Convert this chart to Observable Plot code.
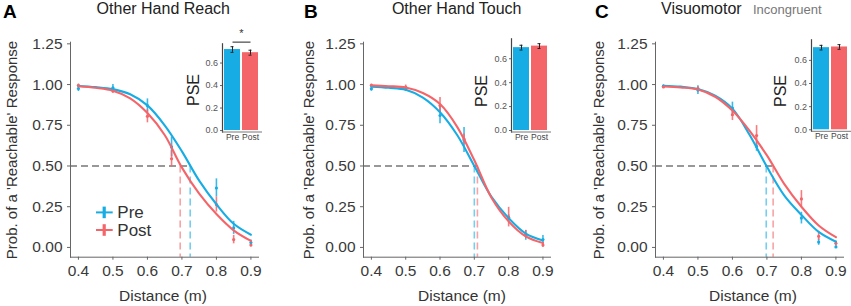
<!DOCTYPE html>
<html><head><meta charset="utf-8">
<script src="https://cdn.jsdelivr.net/npm/d3@7"></script>
<script src="https://cdn.jsdelivr.net/npm/@observablehq/plot@0.6"></script>
<style>
body{margin:0;background:#fff;}
#fig{position:relative;width:851px;height:306px;overflow:hidden;font-family:"Liberation Sans",Arial,sans-serif;background:#fff;}
#fig svg{position:absolute;overflow:visible;}
</style></head><body><div id="fig"></div>
<script>
// ---------- data ----------
const groups = ["Pre", "Post"];
const colors = ["#17ADE4", "#F4656A"];
const xTicks = [0.4, 0.5, 0.6, 0.7, 0.8, 0.9];
const yTicks = [0, 0.25, 0.5, 0.75, 1, 1.25];
const insetTicks = [0, 0.2, 0.4, 0.6];

// fitted curves
const curveX = [0.4, 0.45, 0.5, 0.55, 0.6, 0.65, 0.7, 0.75, 0.8, 0.85, 0.9];
const curveA_pre  = [0.991, 0.984, 0.972, 0.940, 0.872, 0.750, 0.590, 0.410, 0.265, 0.145, 0.078];
const curveA_post = [0.990, 0.980, 0.962, 0.915, 0.825, 0.690, 0.490, 0.330, 0.205, 0.105, 0.040];
const curveB_pre  = [0.987, 0.980, 0.968, 0.920, 0.830, 0.690, 0.500, 0.310, 0.180, 0.085, 0.043];
const curveB_post = [0.995, 0.990, 0.982, 0.948, 0.880, 0.740, 0.535, 0.305, 0.160, 0.068, 0.027];
const curveC_pre  = [0.993, 0.987, 0.973, 0.932, 0.852, 0.690, 0.495, 0.320, 0.200, 0.095, 0.035];
const curveC_post = [0.988, 0.982, 0.969, 0.925, 0.840, 0.715, 0.565, 0.390, 0.250, 0.135, 0.063];

// observed means and error half-widths
const obsX = [0.4, 0.5, 0.6, 0.67, 0.8, 0.85, 0.9];
const obsA_pre  = [0.975, 0.980, 0.871, 0.617, 0.365, 0.120, 0.030];
const errA_pre  = [0.018, 0.020, 0.041, 0.060, 0.056, 0.040, 0.015];
const obsA_post = [0.995, 0.960, 0.805, 0.544, 0.263, 0.048, 0.015];
const errA_post = [0.008, 0.014, 0.040, 0.050, 0.046, 0.026, 0.012];
const obsB_pre  = [0.974, 0.972, 0.810, 0.660, 0.180, 0.074, 0.048];
const errB_pre  = [0.015, 0.015, 0.050, 0.077, 0.020, 0.030, 0.025];
const obsB_post = [0.995, 0.985, 0.871, 0.665, 0.186, 0.080, 0.015];
const errB_post = [0.008, 0.012, 0.050, 0.032, 0.060, 0.025, 0.015];
const obsC_pre  = [0.990, 0.966, 0.856, 0.620, 0.180, 0.033, 0.003];
const errC_pre  = [0.008, 0.027, 0.036, 0.030, 0.036, 0.020, 0.008];
const obsC_post = [0.985, 0.975, 0.815, 0.687, 0.298, 0.068, 0.025];
const errC_post = [0.008, 0.012, 0.036, 0.061, 0.051, 0.026, 0.015];

// PSE (50% points) per condition [Pre, Post]
const pseA = [0.724, 0.695];
const pseB = [0.700, 0.709];
const pseC = [0.698, 0.718];

// inset bars [Pre, Post]
const barA = [0.720, 0.692], barErrA = [0.025, 0.022];
const barB = [0.693, 0.706], barErrB = [0.020, 0.020];
const barC = [0.710, 0.716], barErrC = [0.020, 0.020];

// ---------- helpers ----------
const FONT = "'Liberation Sans', Arial, sans-serif";
const X_DOMAIN = [0.377, 0.922];
const Y_DOMAIN = [-0.06, 1.26];
const fig = document.getElementById("fig");

function place(el, left, top) {
  el.style.position = "absolute";
  el.style.left = left + "px";
  el.style.top = top + "px";
  fig.appendChild(el);
}

function mainPanel(cfg) {
  const curves = [];
  curveX.forEach((x, i) => {
    curves.push({x, y: cfg.curvePre[i], group: "Pre"});
    curves.push({x, y: cfg.curvePost[i], group: "Post"});
  });
  const obs = [];
  obsX.forEach((x, i) => {
    obs.push({x, y: cfg.obsPre[i], lo: cfg.obsPre[i] - cfg.errPre[i], hi: cfg.obsPre[i] + cfg.errPre[i], group: "Pre"});
    obs.push({x, y: cfg.obsPost[i], lo: cfg.obsPost[i] - cfg.errPost[i], hi: cfg.obsPost[i] + cfg.errPost[i], group: "Post"});
  });
  const pse = groups.map((g, i) => ({x: cfg.pse[i], group: g}));
  const pseMax = d3.max(cfg.pse);
  return Plot.plot({
    width: cfg.width, height: 306,
    marginTop: 41.7, marginBottom: 49.3, marginLeft: cfg.marginLeft, marginRight: cfg.marginRight,
    x: {domain: X_DOMAIN},
    y: {domain: Y_DOMAIN},
    color: {domain: groups, range: colors},
    style: {fontFamily: FONT, fontSize: "15.5px", color: "#3a3a3a", background: "transparent", overflow: "visible"},
    marks: [
      Plot.ruleY([0.5], {x1: () => X_DOMAIN[0], x2: () => pseMax, stroke: "#333", strokeWidth: 1.1, strokeDasharray: "7,4"}),
      Plot.ruleX(pse, {x: "x", y1: () => 0.5, y2: () => Y_DOMAIN[0], stroke: "group", strokeOpacity: 0.6, strokeWidth: 1.6, strokeDasharray: "7,4"}),
      Plot.ruleX(obs, {x: "x", y1: "lo", y2: "hi", stroke: "group", strokeWidth: 1.6, strokeOpacity: 0.85}),
      Plot.dot(obs, {x: "x", y: "y", fill: "group", r: 1.6}),
      Plot.line(curves, {x: "x", y: "y", z: "group", stroke: "group", strokeWidth: 2.1, curve: "catmull-rom"}),
      Plot.frame({anchor: "left", stroke: "#666"}),
      Plot.frame({anchor: "bottom", stroke: "#666"}),
      Plot.axisX({ticks: xTicks, tickFormat: d3.format(".1f"), tickSize: 3, tickPadding: 5, stroke: "#666", label: null}),
      Plot.axisY({ticks: yTicks, tickFormat: d3.format(".2f"), tickSize: 3, tickPadding: 5, stroke: "#666", label: null})
    ]
  });
}

function insetPanel(cfg) {
  const rows = groups.map((g, i) => ({group: g, value: cfg.vals[i], lo: cfg.vals[i] - cfg.errs[i], hi: cfg.vals[i] + cfg.errs[i]}));
  const marks = [
    Plot.barY(rows, {x: "group", y: "value", fill: "group"}),
    Plot.ruleX(rows, {x: "group", y1: "lo", y2: "hi", stroke: "#222", strokeWidth: 1}),
    Plot.tickY(rows, {x: "group", y: "lo", stroke: "#222", strokeWidth: 1, insetLeft: 6.5, insetRight: 6.5}),
    Plot.tickY(rows, {x: "group", y: "hi", stroke: "#222", strokeWidth: 1, insetLeft: 6.5, insetRight: 6.5}),
    Plot.frame({anchor: "left", stroke: "#444", strokeWidth: 1.2}),
    Plot.frame({anchor: "bottom", stroke: "#777"}),
    Plot.axisX({tickSize: 0, tickPadding: 2, fontSize: 8.5, label: null, color: "#444"}),
    Plot.axisY({ticks: insetTicks, tickFormat: d3.format(".1f"), tickSize: 2, tickPadding: 2.5, fontSize: 9, stroke: "#666", label: null})
  ];
  if (cfg.sig) {
    marks.push(Plot.link([cfg.sig], {x1: () => "Pre", x2: () => "Post", y1: "y", y2: "y", stroke: "#222", strokeWidth: 1}));
    marks.push(Plot.text([cfg.sig], {x: () => "Pre", text: "label", y: "ty", dx: 9, fontSize: 11, fill: "#333"}));
  }
  return Plot.plot({
    width: cfg.width, height: cfg.height,
    marginTop: cfg.marginTop, marginBottom: cfg.marginBottom, marginLeft: cfg.marginLeft, marginRight: cfg.marginRight,
    x: {domain: groups, paddingInner: 0.1, paddingOuter: 0.1},
    y: {domain: cfg.yDomain},
    color: {domain: groups, range: colors},
    style: {fontFamily: FONT, fontSize: "9px", color: "#555", background: "transparent", overflow: "visible"},
    marks
  });
}

// ---------- main panels ----------
place(mainPanel({width: 290, marginLeft: 70, marginRight: 32,
  curvePre: curveA_pre, curvePost: curveA_post, obsPre: obsA_pre, errPre: errA_pre, obsPost: obsA_post, errPost: errA_post, pse: pseA}), 0, 0);
place(mainPanel({width: 280, marginLeft: 73, marginRight: 20,
  curvePre: curveB_pre, curvePost: curveB_post, obsPre: obsB_pre, errPre: errB_pre, obsPost: obsB_post, errPost: errB_post, pse: pseB}), 290, 0);
place(mainPanel({width: 281, marginLeft: 85, marginRight: 8,
  curvePre: curveC_pre, curvePost: curveC_post, obsPre: obsC_pre, errPre: errC_pre, obsPost: obsC_post, errPost: errC_post, pse: pseC}), 570, 0);

// ---------- insets ----------
place(insetPanel({width: 65, height: 125, marginLeft: 22, marginRight: 4, marginTop: 23.3, marginBottom: 13.5,
  yDomain: [-0.013, 0.771], vals: barA, errs: barErrA, sig: {y: 0.786, ty: 0.86, label: "*"}}), 200, 20);
place(insetPanel({width: 65, height: 125, marginLeft: 21, marginRight: 5, marginTop: 18.3, marginBottom: 13.5,
  yDomain: [-0.0126, 0.767], vals: barB, errs: barErrB}), 490, 20);
place(insetPanel({width: 61, height: 125, marginLeft: 21, marginRight: 1, marginTop: 19.3, marginBottom: 14.2,
  yDomain: [-0.013, 0.778], vals: barC, errs: barErrC}), 790, 20);

// ---------- text overlay ----------
const svg = d3.create("svg").attr("width", 851).attr("height", 306)
  .style("left", "0px").style("top", "0px").style("pointer-events", "none")
  .attr("font-family", FONT);
function txt(x, y, s, o = {}) {
  const t = svg.append("text").attr("x", x).attr("y", y).text(s)
    .attr("font-size", o.size || 15.5).attr("fill", o.fill || "#222")
    .attr("text-anchor", o.anchor || "start");
  if (o.weight) t.attr("font-weight", o.weight);
  if (o.rotate) t.attr("transform", `rotate(-90 ${x} ${y})`).attr("dominant-baseline", "central");
  return t;
}
// panel letters
txt(3, 18.3, "A", {size: 19, weight: "bold", fill: "#000"});
txt(304, 18.3, "B", {size: 19, weight: "bold", fill: "#000"});
txt(595, 18.3, "C", {size: 19, weight: "bold", fill: "#000"});
// titles
txt(163.3, 14, "Other Hand Reach", {anchor: "middle", size: 16});
txt(456.7, 14, "Other Hand Touch", {anchor: "middle", size: 16});
txt(661, 14, "Visuomotor", {size: 16});
txt(753, 14, "Incongruent", {size: 13, fill: "#777"});
// axis titles
const yTitle = "Prob. of a 'Reachable' Response";
txt(11, 150, yTitle, {anchor: "middle", rotate: true, size: 15, fill: "#333"});
txt(308.5, 150, yTitle, {anchor: "middle", rotate: true, size: 15, fill: "#333"});
txt(598, 150, yTitle, {anchor: "middle", rotate: true, size: 15, fill: "#333"});
txt(163, 300.5, "Distance (m)", {anchor: "middle", fill: "#333"});
txt(462, 300.5, "Distance (m)", {anchor: "middle", fill: "#333"});
txt(753, 300.5, "Distance (m)", {anchor: "middle", fill: "#333"});
// inset y titles
txt(193.3, 90, "PSE", {anchor: "middle", rotate: true, size: 16, fill: "#222"});
txt(481.7, 91, "PSE", {anchor: "middle", rotate: true, size: 16, fill: "#222"});
txt(780, 91, "PSE", {anchor: "middle", rotate: true, size: 16, fill: "#222"});
// legend (panel A)
[["Pre", 212.4, 218.4], ["Post", 230, 235.8]].forEach(([label, cy, base], i) => {
  svg.append("line").attr("x1", 96).attr("x2", 112.7).attr("y1", cy).attr("y2", cy)
    .attr("stroke", colors[i]).attr("stroke-width", 2);
  svg.append("rect").attr("x", 102.6).attr("y", cy - 5.8).attr("width", 3.2).attr("height", 11.6)
    .attr("fill", colors[i]);
  txt(117.3, base, label, {size: 17, fill: "#333"});
});
place(svg.node(), 0, 0);
</script>
</body></html>
